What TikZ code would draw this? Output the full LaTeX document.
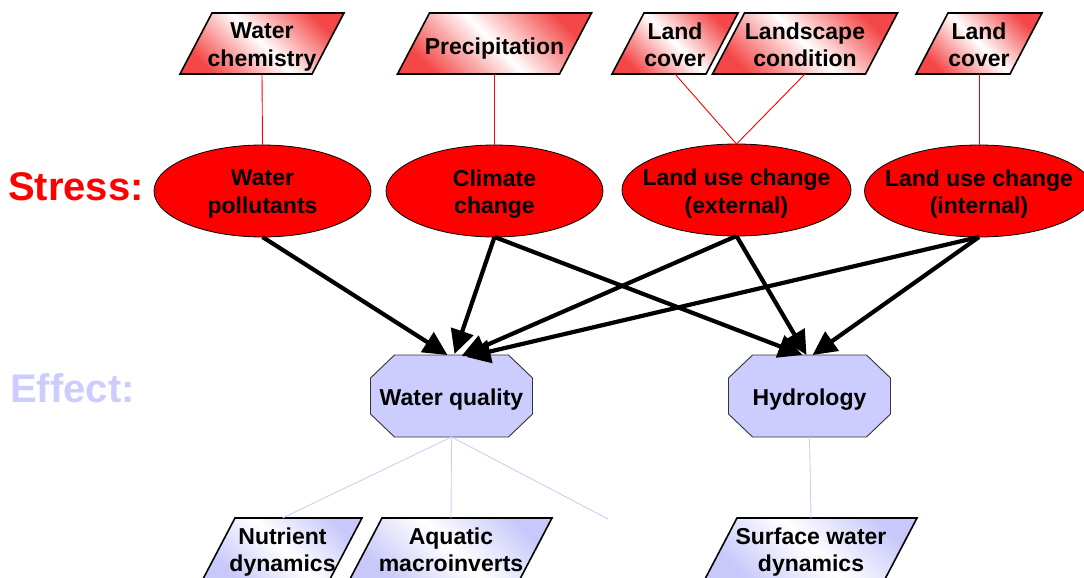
\documentclass[tikz,border=0pt]{standalone}
\usepackage{fontspec}
\setmainfont{Liberation Sans}
\usetikzlibrary{arrows.meta,shapes.geometric}

\definecolor{stressred}{RGB}{255,0,0}
\definecolor{effectlav}{RGB}{204,204,255}
\definecolor{sublav}{RGB}{205,205,245}
\definecolor{shadered}{RGB}{244,72,72}
\definecolor{shadelav}{RGB}{200,200,250}

\tikzset{
  lbl/.style={font=\fontsize{23}{27.5}\selectfont\bfseries, align=center,
              inner sep=0pt, outer sep=0pt,
              execute at begin node=\strut, execute at end node=\strut},
  shapebox/.style={inner sep=0pt, outer sep=0pt},
  slantshape/.style={draw=black, line width=1.6pt, line join=miter},
  stressshape/.style={ellipse, draw=black, line width=0.8pt, fill=stressred,
              inner sep=0pt, outer sep=0pt, minimum height=92pt},
  octagon/.style={draw=black!80, line width=0.9pt, fill=effectlav},
  link/.style={line width=0.9pt, red},
  sublink/.style={line width=0.9pt, sublav},
  impact/.style={line width=4.2pt, -{Triangle[length=24pt,width=23pt]}},
  heading/.style={font=\fontsize{40}{44}\selectfont\bfseries, inner sep=0pt,
              anchor=west},
}

% label placed in a shape: [downward nudge] name, text
\newcommand\shapelabel[3][3.8pt]{%
  \node[lbl] (#2-t) at ([yshift=-#1]#2.center) {#3};}

% slanted data box: name, x, y, width, shade colour, text
\newcommand\slantnode[6]{%
  \node[shapebox, minimum width=#4, minimum height=61pt] (#1) at (#2,#3) {};
  \shadedraw[slantshape, left color=#5, right color=#5, middle color=white,
             shading angle=135]
    ([xshift=-16pt]#1.south west) -- ([xshift=-16pt]#1.south east)
    -- ([xshift=16pt]#1.north east) -- ([xshift=16pt]#1.north west) -- cycle;
  \shapelabel[5.3pt]{#1}{#6}}

% chamfered effect box: name, x, y, text
\newcommand\effectnode[4]{%
  \node[shapebox, minimum width=162pt, minimum height=82pt] (#1) at (#2,#3) {};
  \draw[octagon] ([xshift=24pt]#1.north west) -- ([xshift=-24pt]#1.north east)
    -- ([yshift=-23pt]#1.north east) -- ([yshift=23pt]#1.south east)
    -- ([xshift=-24pt]#1.south east) -- ([xshift=24pt]#1.south west)
    -- ([yshift=23pt]#1.south west) -- ([yshift=-23pt]#1.north west) -- cycle;
  \shapelabel{#1}{#4}}

\begin{document}
\begin{tikzpicture}[x=1pt, y=-1pt]
  \useasboundingbox (0,0) rectangle (1084,578);

  % row headings
  \node[heading, text=stressred] (stress) at (8,187) {Stress:};
  \node[heading, text=effectlav] (effect) at (10,388) {Effect:};

  % indicator boxes
  \slantnode{wchem}{262}{43.5}{132pt}{shadered}{Water\\chemistry}
  \slantnode{precip}{494.5}{43.5}{162pt}{shadered}{Precipitation}
  \slantnode{lcovA}{675}{43.5}{94pt}{shadered}{Land\\cover}
  \slantnode{lscape}{805}{43.5}{153pt}{shadered}{Landscape\\condition}
  \slantnode{lcovB}{979}{43.5}{94pt}{shadered}{Land\\cover}

  % stressors
  \node[stressshape, minimum width=217pt] (wp) at (262.5,191) {};
  \shapelabel[4.8pt]{wp}{Water\\pollutants}
  \node[stressshape, minimum width=217pt] (cc) at (494.5,191) {};
  \shapelabel[4.8pt]{cc}{Climate\\change}
  \node[stressshape, minimum width=229pt] (lue) at (736.5,190) {};
  \shapelabel[5.3pt]{lue}{Land use change\\(external)}
  \node[stressshape, minimum width=229pt] (lui) at (979,191) {};
  \shapelabel[4.8pt]{lui}{Land use change\\(internal)}

  % indicator links
  \coordinate (ljoin) at (lue.north);
  \draw[link] (wchem.south) -- (wp.north);
  \draw[link] (precip.south) -- (cc.north);
  \draw[link] (lcovA.south) -- (ljoin);
  \draw[link] (lscape.south) -- (ljoin);
  \draw[link] (lcovB.south) -- (lui.north);

  % effects
  \effectnode{wq}{451.5}{396}{Water quality}
  \effectnode{hyd}{809.5}{396}{Hydrology}

  % stress -> effect
  \draw[impact] (wp.south) -- ([xshift=-4pt]wq.north);
  \draw[impact] (cc.south) -- ([xshift=3pt,yshift=1pt]wq.north);
  \draw[impact] (lue.south) -- ([xshift=10pt,yshift=-1pt]wq.north);
  \draw[impact] (lui.south) -- ([xshift=15pt,yshift=-2pt]wq.north);
  \draw[impact] (cc.south) -- ([xshift=-7pt]hyd.north);
  \draw[impact] (lue.south) -- ([xshift=-3pt]hyd.north);
  \draw[impact] (lui.south) -- ([xshift=3pt]hyd.north);

  % response indicators
  \slantnode{nutr}{282.5}{548.5}{127pt}{shadelav}{Nutrient\\dynamics}
  \slantnode{macro}{451}{548.5}{170pt}{shadelav}{Aquatic\\macroinverts}
  \slantnode{surf}{811}{548.5}{180pt}{shadelav}{Surface water\\dynamics}
  \coordinate (wq-more) at (608,519);

  \draw[sublink] (wq.south) -- (nutr.north);
  \draw[sublink] (wq.south) -- (macro.north);
  \draw[sublink] (wq.south) -- (wq-more);
  \draw[sublink] (hyd.south) -- (surf.north);
\end{tikzpicture}
\end{document}
